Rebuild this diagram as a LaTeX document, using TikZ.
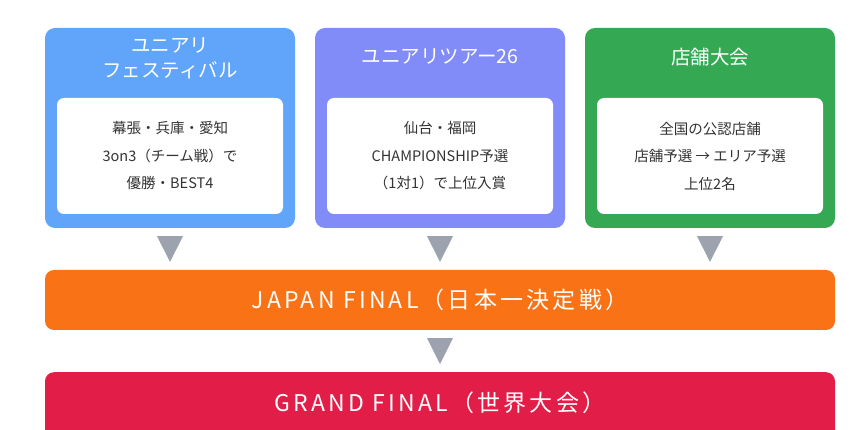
\documentclass[tikz,border=0pt]{standalone}
\usepackage{fontspec}
\usetikzlibrary{calc}
\setmainfont{Noto Sans CJK JP}
\newfontfamily\bandfont[LetterSpace=14]{Noto Sans CJK JP}
\definecolor{cblue}{HTML}{60A5FA}
\definecolor{cpurple}{HTML}{818CF8}
\definecolor{cgreen}{HTML}{34A853}
\definecolor{corange}{HTML}{F97316}
\definecolor{cred}{HTML}{E11D48}
\definecolor{ctri}{HTML}{9CA3AF}
\definecolor{ctext}{HTML}{333333}
\tikzset{
  outerbox/.style={rectangle, rounded corners=10pt, minimum width=250pt, minimum height=200pt, inner sep=0pt},
  innerbox/.style={rectangle, rounded corners=7pt, fill=white, minimum width=226pt, minimum height=116pt, inner sep=0pt},
  titletext/.style={text=white, align=center, font=\fontsize{19.5}{25}\selectfont, inner sep=0pt},
  bodytext/.style={text=ctext, align=center, font=\fontsize{14.5}{27.5}\selectfont, inner sep=0pt},
  bandbox/.style={rectangle, rounded corners=9pt, minimum width=790pt, inner sep=0pt},
  bandtext/.style={text=white, inner sep=0pt, font=\bandfont\fontsize{23}{27}\selectfont},
  tri/.style={fill=ctri}
}
\begin{document}
\begin{tikzpicture}[x=1pt,y=-1pt]
\clip (0,0) rectangle (860,430);
\fill[white] (0,0) rectangle (860,430);
% top boxes
\node[outerbox, fill=cblue] (f1) at (170,128) {};
\node[outerbox, fill=cpurple] (f2) at (440,128) {};
\node[outerbox, fill=cgreen] (f3) at (710,128) {};
\node[innerbox] (i1) at (170,156) {};
\node[innerbox] (i2) at (440,156) {};
\node[innerbox] (i3) at (710,156) {};
\node[titletext] (t1) at (170,58) {ユニアリ\\フェスティバル};
\node[titletext] (t2) at (440,57) {ユニアリツアー26};
\node[titletext] (t3) at (710,57) {店舗大会};
\node[bodytext] (b1) at (i1.center) {幕張・兵庫・愛知\\3on3（チーム戦）で\\優勝・BEST4};
\node[bodytext] (b2) at (i2.center) {仙台・福岡\\CHAMPIONSHIP予選\\（1対1）で上位入賞};
\node[bodytext] (b3) at (i3.center) {全国の公認店舗\\店舗予選 → エリア予選\\上位2名};
% bands
\node[bandbox, fill=corange, minimum height=60pt] (jf) at (440,300) {};
\node[bandtext] (jft) at (jf.center) {JAPAN FINAL（日本一決定戦）};
\node[bandbox, fill=cred, minimum height=80pt, anchor=north] (gfbox) at (440,372) {};
\node[bandtext] (gf) at (440,403) {GRAND FINAL（世界大会）};
% triangles
\fill[tri] ($(f1.south)+(-13,8)$) -- ($(f1.south)+(13,8)$) -- ($(f1.south |- jf.north)+(0,-8)$) -- cycle;
\fill[tri] ($(f2.south)+(-13,8)$) -- ($(f2.south)+(13,8)$) -- ($(f2.south |- jf.north)+(0,-8)$) -- cycle;
\fill[tri] ($(f3.south)+(-13,8)$) -- ($(f3.south)+(13,8)$) -- ($(f3.south |- jf.north)+(0,-8)$) -- cycle;
\fill[tri] ($(jf.south)+(-13,8)$) -- ($(jf.south)+(13,8)$) -- ($(gfbox.north)+(0,-8)$) -- cycle;
\end{tikzpicture}
\end{document}
